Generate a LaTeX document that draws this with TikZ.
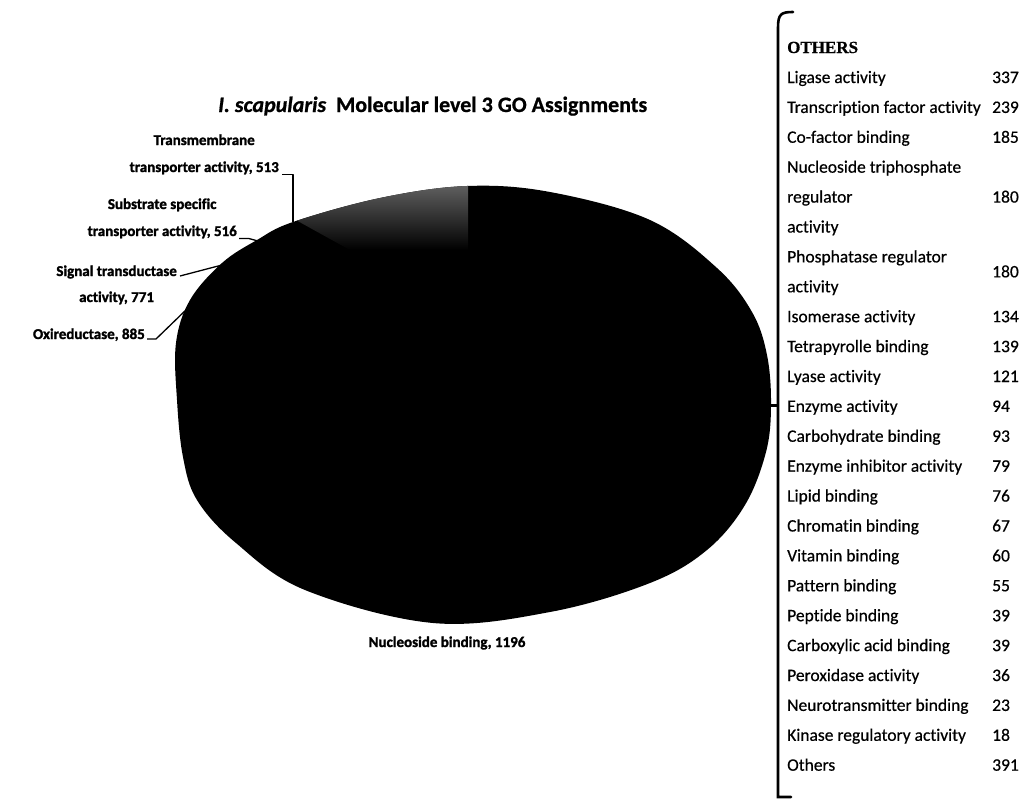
\documentclass[tikz,border=0pt]{standalone}
\usepackage{fontspec}
\setmainfont{Carlito}
\newfontfamily\othersfont[FakeBold=0.6]{Liberation Serif Bold}
\newfontfamily\heavyfont[FakeBold=1.6,Ligatures=NoCommon]{Carlito Bold}
\newfontfamily\titlefont[FakeBold=0.8,Ligatures=NoCommon]{Carlito Bold}
\newfontfamily\titleitfont[FakeBold=0.8,Ligatures=NoCommon]{Carlito Bold Italic}
\newfontfamily\tabfont[FakeBold=0.5,Ligatures=NoCommon]{Carlito}
\begin{document}
\begin{tikzpicture}[x=1pt,y=-1pt,
  lab/.style={font=\heavyfont\fontsize{15}{18}\selectfont, inner sep=0pt},
  rowtext/.style={font=\tabfont\fontsize{17.5}{20}\selectfont, inner sep=0pt, anchor=base west},
  leader/.style={line width=1.3pt, line join=round},
  brace/.style={line width=2.6pt, line cap=round}]
\useasboundingbox (0,0) rectangle (1029,801);
% pie body
\fill[black] plot[smooth cycle, tension=0.6] coordinates {(467,186) (550,192) (650,220) (717,268) (752,312) (767,355) (771,405) (766,452) (745,505) (707,550) (650,583) (550,612) (433,623) (305,590) (236,543) (197,500) (183,457) (177,400) (176,343) (190,300) (222,263) (257,240) (293,222) (380,198)};
% speckled (lighter) slice at the top
\begin{scope}
  \clip (285,214) -- (380,186) -- (468,178) -- (468,300) -- (440,300) -- cycle;
  \clip plot[smooth cycle, tension=0.6] coordinates {(467,186) (550,192) (650,220) (717,268) (752,312) (767,355) (771,405) (766,452) (745,505) (707,550) (650,583) (550,612) (433,623) (305,590) (236,543) (197,500) (183,457) (177,400) (176,343) (190,300) (222,263) (257,240) (293,222) (380,198)};
  \shade[top color=black!62, bottom color=black] (280,184) rectangle (470,250);
\end{scope}
% attachment points on the pie
\coordinate (p513) at (293,222);
\coordinate (p516) at (258,241);
\coordinate (p771) at (222,265);
\coordinate (p885) at (187,309);
\coordinate (pright) at (768,405);
\coordinate (bmid) at (778,405);
\coordinate (btop) at (793,12);
\coordinate (bbot) at (791,797);
% title
\node[anchor=base west, inner sep=0pt, font=\titlefont\fontsize{22}{26}\selectfont] (title) at (218,112)
  {{\titleitfont I. scapularis}\ \ Molecular level 3 GO Assignments};
% slice labels
\node[lab, anchor=base east] (tm2) at (279,172) {transporter activity, 513};
\node[lab, anchor=base] (tm1) at ([yshift=27pt]tm2.base) {Transmembrane};
\node[lab, anchor=base east] (ss2) at (237,236) {transporter activity, 516};
\node[lab, anchor=base] (ss1) at ([yshift=27pt]ss2.base) {Substrate specific};
\node[lab, anchor=base east] (sg1) at (177,276) {Signal transductase};
\node[lab, anchor=base] (sg2) at ([yshift=-26pt]sg1.base) {activity, 771};
\node[lab, anchor=base east] (ox) at (145,339) {Oxireductase, 885};
\node[lab, anchor=base] (nb) at (447,647) {Nucleoside binding, 1196};
% leaders
\draw[leader] ([xshift=3pt]tm2.south east) -- ++(11,0) -- (p513);
\draw[leader] ([xshift=2pt]ss2.south east) -- ++(10,0) -- (p516);
\draw[leader] ([xshift=3pt]sg1.base east) -- (p771);
\draw[leader] ([xshift=2pt]ox.base east) -- ++(9,0) -- (p885);
% bracket
\draw[brace] (btop) .. controls (781,12) and (778,14) .. (778,28) -- (778,797) -- (bbot);
\draw[line width=3pt] (pright) -- (bmid);
% table
\node[anchor=base west, inner sep=0pt, font=\othersfont\fontsize{17}{20}\selectfont] (others) at (787,53) {OTHERS};
\foreach \t/\n [count=\i] in {Ligase activity/337, Transcription factor activity/239, Co-factor binding/185, Nucleoside triphosphate/, regulator/180, activity/, Phosphatase regulator/, activity/, Isomerase activity/134, Tetrapyrolle binding/139, Lyase activity/121, Enzyme activity/94, Carbohydrate binding/93, Enzyme inhibitor activity/79, Lipid binding/76, Chromatin binding/67, Vitamin binding/60, Pattern binding/55, Peptide binding/39, Carboxylic acid binding/39, Peroxidase activity/36, Neurotransmitter binding/23, Kinase regulatory activity/18, Others/391}{
  \node[rowtext] (row\i) at (787,{83+29.9*(\i-1)}) {\t};
  \node[rowtext] (num\i) at (992,{83+29.9*(\i-1)}) {\n};
}
\node[rowtext] (numph) at (992,{83+29.9*6.5}) {180};
\end{tikzpicture}
\end{document}
